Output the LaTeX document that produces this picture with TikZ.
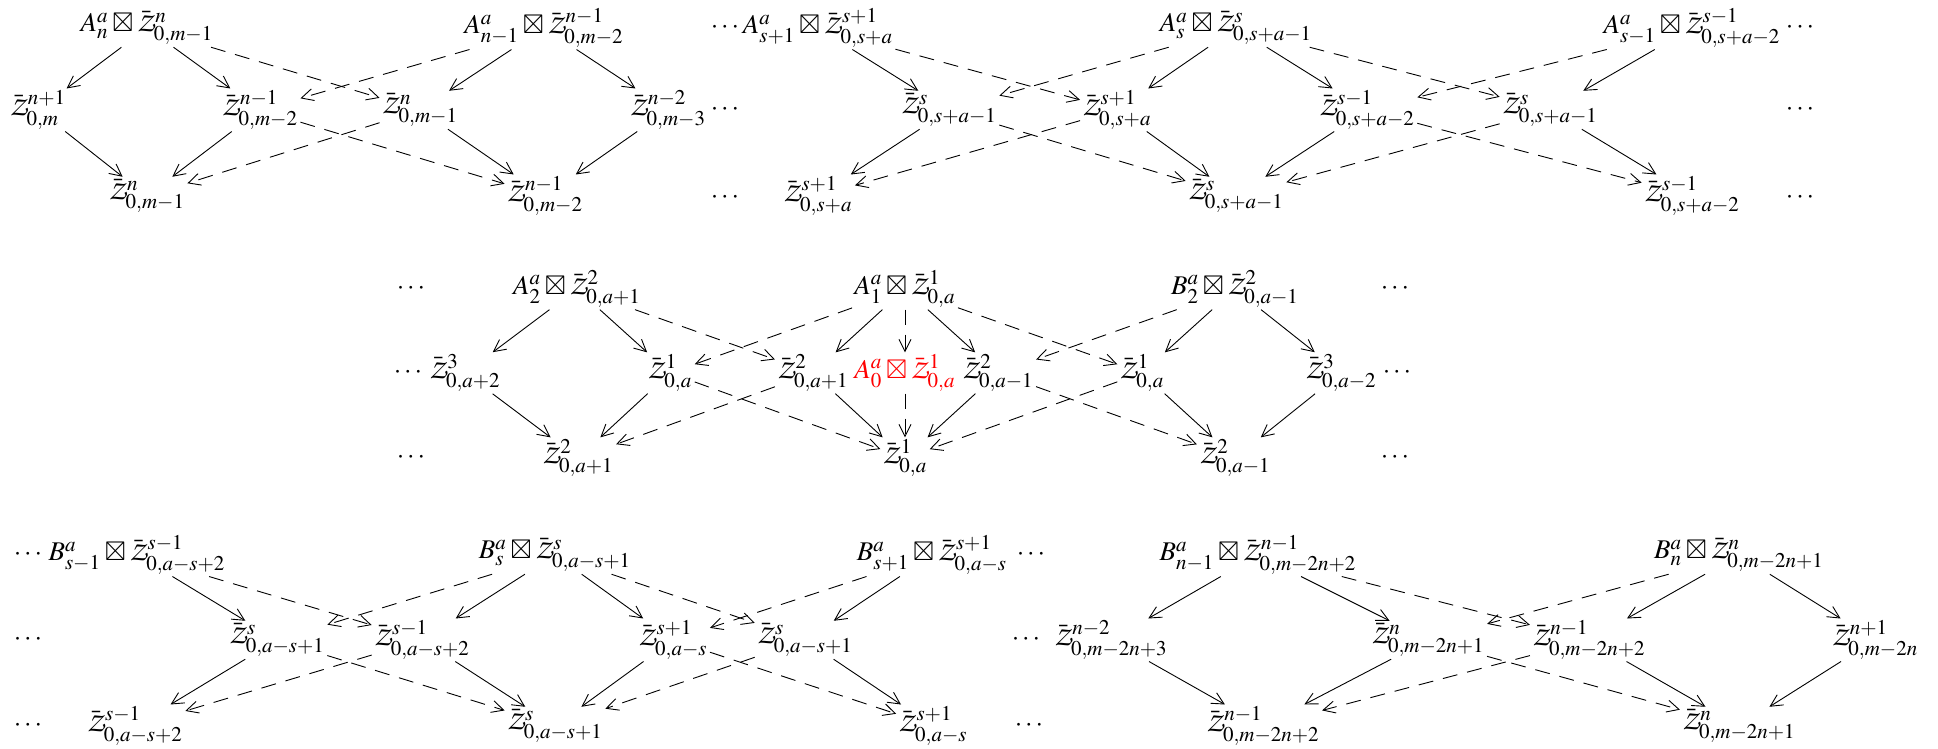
\documentclass[tikz,border=0pt]{standalone}
\usepackage{mathptmx}
\usepackage{amssymb}
\usetikzlibrary{arrows.meta}
\DeclareMathAlphabet{\mathzc}{OT1}{pzc}{m}{it}
\DeclareMathSizes{13.5}{13.5}{10.5}{8}
\newcommand{\myZ}[2]{\bar{\mathzc{Z}}^{#1}_{#2}}
\tikzset{
  lbl/.style={inner sep=1pt, font=\fontsize{13.5}{15}\selectfont},
  ar/.style={-{Straight Barb[length=6pt,width=6pt]}, line width=0.45pt},
  da/.style={ar, dash pattern=on 7.5pt off 5pt},
}
\begin{document}
\begin{tikzpicture}[x=0.5pt,y=-0.5pt,every node/.style={lbl}]
\useasboundingbox (0,0) rectangle (1938,749);
% ---------- row 1 ----------
\node (a1) at (147,28) {$A^a_n\boxtimes\myZ{n}{0,m-1}$};
\node (a2) at (544,28) {$A^a_{n-1}\boxtimes\myZ{n-1}{0,m-2}$};
\node (a3) at (818,28) {$A^a_{s+1}\boxtimes\myZ{s+1}{0,s+a}$};
\node (a4) at (1236,28) {$A^a_{s}\boxtimes\myZ{s}{0,s+a-1}$};
\node (a5) at (1692,28) {$A^a_{s-1}\boxtimes\myZ{s-1}{0,s+a-2}$};
\node (t1) at (725,28) {$\cdots$};
\node (t2) at (1800,28) {$\cdots$};
\node (m1) at (38,110) {$\myZ{n+1}{0,m}$};
\node (m2) at (260,110) {$\myZ{n-1}{0,m-2}$};
\node (m3) at (420,110) {$\myZ{n}{0,m-1}$};
\node (m4) at (668,110) {$\myZ{n-2}{0,m-3}$};
\node (m5) at (949,110) {$\myZ{s}{0,s+a-1}$};
\node (m6) at (1117,110) {$\myZ{s+1}{0,s+a}$};
\node (m7) at (1367,110) {$\myZ{s-1}{0,s+a-2}$};
\node (m8) at (1550,110) {$\myZ{s}{0,s+a-1}$};
\node (t3) at (725,110) {$\cdots$};
\node (t4) at (1800,110) {$\cdots$};
\node (b1) at (147,196) {$\myZ{n}{0,m-1}$};
\node (b2) at (545,196) {$\myZ{n-1}{0,m-2}$};
\node (b3) at (818,196) {$\myZ{s+1}{0,s+a}$};
\node (b4) at (1236,196) {$\myZ{s}{0,s+a-1}$};
\node (b5) at (1692,196) {$\myZ{s-1}{0,s+a-2}$};
\node (t5) at (725,198) {$\cdots$};
\node (t6) at (1800,198) {$\cdots$};
\draw[ar] (a1) -- (m1); \draw[ar] (a1) -- (m2); \draw[da] (a1) -- (m3);
\draw[da] (a2) -- (m2); \draw[ar] (a2) -- (m3); \draw[ar] (a2) -- (m4);
\draw[ar] (m1) -- (b1); \draw[ar] (m2) -- (b1); \draw[da] (m3) -- (b1);
\draw[da] (m2) -- (b2); \draw[ar] (m3) -- (b2); \draw[ar] (m4) -- (b2);
\draw[ar] (a3) -- (m5); \draw[da] (a3) -- (m6);
\draw[da] (a4) -- (m5); \draw[ar] (a4) -- (m6); \draw[ar] (a4) -- (m7); \draw[da] (a4) -- (m8);
\draw[da] (a5) -- (m7); \draw[ar] (a5) -- (m8);
\draw[ar] (m5) -- (b3); \draw[da] (m6) -- (b3);
\draw[da] (m5) -- (b4); \draw[ar] (m6) -- (b4); \draw[ar] (m7) -- (b4); \draw[da] (m8) -- (b4);
\draw[da] (m7) -- (b5); \draw[ar] (m8) -- (b5);
% ---------- row 2 ----------
\node (u1) at (411,289) {$\cdots$};
\node (c1) at (577,289) {$A^a_2\boxtimes\myZ{2}{0,a+1}$};
\node (c2) at (905,289) {$A^a_1\boxtimes\myZ{1}{0,a}$};
\node (c3) at (1235,289) {$B^a_2\boxtimes\myZ{2}{0,a-1}$};
\node (u2) at (1395,289) {$\cdots$};
\node (u3) at (408,373) {$\cdots$};
\node (n1) at (465,373) {$\myZ{3}{0,a+2}$};
\node (n2) at (670,373) {$\myZ{1}{0,a}$};
\node (n3) at (813,373) {$\myZ{2}{0,a+1}$};
\node[text=red] (n0) at (905,373) {$A^a_0\boxtimes\myZ{1}{0,a}$};
\node (n4) at (998,373) {$\myZ{2}{0,a-1}$};
\node (n5) at (1142,373) {$\myZ{1}{0,a}$};
\node (n6) at (1341,373) {$\myZ{3}{0,a-2}$};
\node (u4) at (1397,373) {$\cdots$};
\node (u5) at (411,458) {$\cdots$};
\node (d1) at (578,458) {$\myZ{2}{0,a+1}$};
\node (d2) at (905,458) {$\myZ{1}{0,a}$};
\node (d3) at (1235,458) {$\myZ{2}{0,a-1}$};
\node (u6) at (1395,458) {$\cdots$};
\draw[ar] (c1) -- (n1); \draw[ar] (c1) -- (n2); \draw[da] (c1) -- (n3);
\draw[da] (c2) -- (n2); \draw[ar] (c2) -- (n3); \draw[da] (c2) -- (n0);
\draw[ar] (c2) -- (n4); \draw[da] (c2) -- (n5);
\draw[da] (c3) -- (n4); \draw[ar] (c3) -- (n5); \draw[ar] (c3) -- (n6);
\draw[ar] (n1) -- (d1); \draw[ar] (n2) -- (d1); \draw[da] (n3) -- (d1);
\draw[da] (n2) -- (d2); \draw[ar] (n3) -- (d2); \draw[da] (n0) -- (d2);
\draw[ar] (n4) -- (d2); \draw[da] (n5) -- (d2);
\draw[da] (n4) -- (d3); \draw[ar] (n5) -- (d3); \draw[ar] (n6) -- (d3);
% ---------- row 3 ----------
\node (v1) at (28,555) {$\cdots$};
\node (e1) at (137,555) {$B^a_{s-1}\boxtimes\myZ{s-1}{0,a-s+2}$};
\node (e2) at (555,555) {$B^a_{s}\boxtimes\myZ{s}{0,a-s+1}$};
\node (e3) at (932,555) {$B^a_{s+1}\boxtimes\myZ{s+1}{0,a-s}$};
\node (v2) at (1031,555) {$\cdots$};
\node (e4) at (1258,555) {$B^a_{n-1}\boxtimes\myZ{n-1}{0,m-2n+2}$};
\node (e5) at (1739,555) {$B^a_{n}\boxtimes\myZ{n}{0,m-2n+1}$};
\node (v3) at (28,640) {$\cdots$};
\node (q1) at (277,640) {$\myZ{s}{0,a-s+1}$};
\node (q2) at (422,640) {$\myZ{s-1}{0,a-s+2}$};
\node (q3) at (673,640) {$\myZ{s+1}{0,a-s}$};
\node (q4) at (805,640) {$\myZ{s}{0,a-s+1}$};
\node (v4) at (1026,640) {$\cdots$};
\node (q5) at (1111,640) {$\myZ{n-2}{0,m-2n+3}$};
\node (q6) at (1428,640) {$\myZ{n}{0,m-2n+1}$};
\node (q7) at (1589,640) {$\myZ{n-1}{0,m-2n+2}$};
\node (q8) at (1875,640) {$\myZ{n+1}{0,m-2n}$};
\node (v5) at (28,726) {$\cdots$};
\node (f1) at (135,726) {$\myZ{s-1}{0,a-s+2}$};
\node (f2) at (555,726) {$\myZ{s}{0,a-s+1}$};
\node (f3) at (933,726) {$\myZ{s+1}{0,a-s}$};
\node (v6) at (1029,726) {$\cdots$};
\node (f4) at (1263,726) {$\myZ{n-1}{0,m-2n+2}$};
\node (f5) at (1739,726) {$\myZ{n}{0,m-2n+1}$};
\draw[ar] (e1) -- (q1); \draw[da] (e1) -- (q2);
\draw[da] (e2) -- (q1); \draw[ar] (e2) -- (q2); \draw[ar] (e2) -- (q3); \draw[da] (e2) -- (q4);
\draw[da] (e3) -- (q3); \draw[ar] (e3) -- (q4);
\draw[ar] (q1) -- (f1); \draw[da] (q2) -- (f1);
\draw[da] (q1) -- (f2); \draw[ar] (q2) -- (f2); \draw[ar] (q3) -- (f2); \draw[da] (q4) -- (f2);
\draw[da] (q3) -- (f3); \draw[ar] (q4) -- (f3);
\draw[ar] (e4) -- (q5); \draw[ar] (e4) -- (q6); \draw[da] (e4) -- (q7);
\draw[da] (e5) -- (q6); \draw[ar] (e5) -- (q7); \draw[ar] (e5) -- (q8);
\draw[ar] (q5) -- (f4); \draw[ar] (q6) -- (f4); \draw[da] (q7) -- (f4);
\draw[da] (q6) -- (f5); \draw[ar] (q7) -- (f5); \draw[ar] (q8) -- (f5);
\end{tikzpicture}
\end{document}
